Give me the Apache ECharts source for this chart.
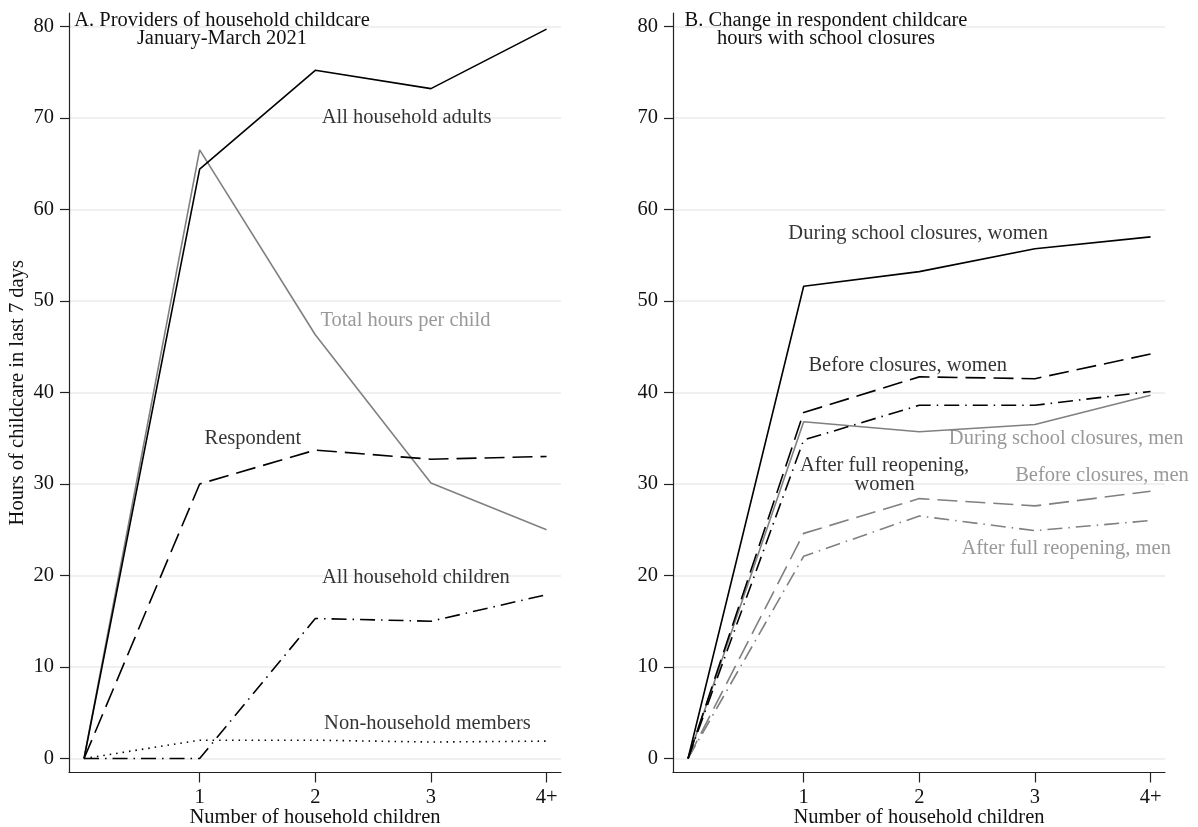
<!DOCTYPE html>
<html>
<head>
<meta charset="utf-8">
<script src="https://cdn.jsdelivr.net/npm/echarts@6/dist/echarts.min.js"></script>
<style>
html,body{margin:0;padding:0;background:#fff;}
#chart{width:1198px;height:827px;}
</style>
</head>
<body>
<div id="chart"></div>
<script>
// ---------- data ----------
const xVals = [0, 1, 2, 3, 4];
const xTickVals = [1, 2, 3, 4];
const xTickLabels = ['1', '2', '3', '4+'];
const yTickVals = [0, 10, 20, 30, 40, 50, 60, 70, 80];

// Panel A: providers of household childcare
const allAdults      = [0, 64.4, 75.2, 73.2, 79.7];
const totalPerChild  = [0, 66.5, 46.3, 30.1, 25.0];
const respondent     = [0, 30.0, 33.7, 32.7, 33.0];
const allChildren    = [0, 0.0, 15.3, 15.0, 17.9];
const nonHousehold   = [0, 2.0, 2.0, 1.8, 1.9];

// Panel B: respondent childcare hours and school closures
const duringWomen = [0, 51.6, 53.2, 55.7, 57.0];
const beforeWomen = [0, 37.8, 41.7, 41.5, 44.2];
const afterWomen  = [0, 34.8, 38.6, 38.6, 40.1];
const duringMen   = [0, 36.8, 35.7, 36.5, 39.7];
const beforeMen   = [0, 24.6, 28.4, 27.6, 29.2];
const afterMen    = [0, 22.1, 26.5, 24.9, 26.0];

const titleA = 'A. Providers of household childcare\nJanuary-March 2021';
const titleB = 'B. Change in respondent childcare\nhours with school closures';
const xTitle = 'Number of household children';
const yTitle = 'Hours of childcare in last 7 days';

// text annotations: [text, x, y, colour key]
const notesA = [
  ['All household adults', 2.79, 70.0, 'k'],
  ['Total hours per child', 2.78, 47.9, 'g'],
  ['Respondent', 1.46, 35.0, 'k'],
  ['All household children', 2.87, 19.8, 'k'],
  ['Non-household members', 2.97, 3.8, 'k']
];
const notesB = [
  ['During school closures, women', 1.99, 57.4, 'k'],
  ['Before closures, women', 1.90, 42.9, 'k'],
  ['After full reopening,\nwomen', 1.70, 31.0, 'k'],
  ['During school closures, men', 3.27, 34.9, 'g'],
  ['Before closures, men', 3.58, 30.9, 'g'],
  ['After full reopening, men', 3.27, 22.9, 'g']
];

// ---------- styling ----------
const FONT = 'Liberation Serif';
const FS = 20.5;
const BLACK = '#000000';
const GRAY = '#808080';
const SOLID = 'solid';
const DASH = [20, 8];
const DASHDOT = [15, 6, 1.5, 6];
const DOT = [1.5, 5];

const chart = echarts.init(document.getElementById('chart'), null, {renderer: 'canvas'});

function pairs(ys) { return xVals.map((x, i) => [x, ys[i]]); }

function xAxisDef(gi) {
  return {
    type: 'value', gridIndex: gi, min: -0.13, max: 4.125,
    name: xTitle, nameLocation: 'middle', nameGap: 35, nameMoveOverlap: false,
    nameTextStyle: {fontFamily: FONT, fontSize: FS, color: '#111'},
    axisLine: {show: true, onZero: false, lineStyle: {color: '#222', width: 1.2}},
    axisTick: {show: true, length: 10, customValues: xTickVals, lineStyle: {color: '#222', width: 1.2}},
    axisLabel: {show: true, margin: 15, customValues: xTickVals, fontFamily: FONT, fontSize: FS, color: '#111',
      formatter: v => xTickLabels[xTickVals.indexOf(v)]},
    splitLine: {show: false}
  };
}
function yAxisDef(gi, withName) {
  return {
    type: 'value', gridIndex: gi, min: -1.53, max: 81.46,
    name: withName ? yTitle : '', nameLocation: 'middle', nameGap: 41, nameMoveOverlap: false,
    nameTextStyle: {fontFamily: FONT, fontSize: FS, color: '#111'},
    axisLine: {show: true, onZero: false, lineStyle: {color: '#222', width: 1.2}},
    axisTick: {show: true, length: 9, customValues: yTickVals, lineStyle: {color: '#222', width: 1.2}},
    axisLabel: {show: true, margin: 15, customValues: yTickVals, fontFamily: FONT, fontSize: FS, color: '#111'},
    splitLine: {show: true, lineStyle: {color: '#ebebeb', width: 1.6}}
  };
}
function lineSeries(name, ys, gi, color, type) {
  return {
    name: name, type: 'line', xAxisIndex: gi, yAxisIndex: gi,
    data: pairs(ys), symbol: 'none', smooth: false, silent: true, animation: false,
    lineStyle: {color: color, width: 1.6, type: type, cap: 'butt'}
  };
}
function noteSeries(notes, gi) {
  return {
    type: 'scatter', xAxisIndex: gi, yAxisIndex: gi, symbolSize: 0, silent: true, animation: false,
    z: 10,
    data: notes.map(n => ({
      value: [n[1], n[2]],
      label: {show: true, position: 'inside', formatter: n[0], fontFamily: FONT, fontSize: FS,
        lineHeight: 19, align: 'center', verticalAlign: 'middle',
        color: n[3] === 'g' ? GRAY : BLACK}
    }))
  };
}

const option = {
  backgroundColor: '#ffffff',
  animation: false,
  title: [
    {text: titleA, left: 222, top: 12, padding: 0, textAlign: 'center',
      textStyle: {fontFamily: FONT, fontSize: FS, fontWeight: 'normal', color: '#111', lineHeight: 18}},
    {text: titleB, left: 826, top: 12, padding: 0, textAlign: 'center',
      textStyle: {fontFamily: FONT, fontSize: FS, fontWeight: 'normal', color: '#111', lineHeight: 18}}
  ],
  grid: [
    {left: 69, right: 637, top: 13, bottom: 54.5, containLabel: false, outerBoundsMode: 'none'},
    {left: 673, right: 33, top: 13, bottom: 54.5, containLabel: false, outerBoundsMode: 'none'}
  ],
  xAxis: [xAxisDef(0), xAxisDef(1)],
  yAxis: [yAxisDef(0, true), yAxisDef(1, false)],
  series: [
    lineSeries('Total hours per child', totalPerChild, 0, GRAY, SOLID),
    lineSeries('All household adults', allAdults, 0, BLACK, SOLID),
    lineSeries('Respondent', respondent, 0, BLACK, DASH),
    lineSeries('All household children', allChildren, 0, BLACK, DASHDOT),
    lineSeries('Non-household members', nonHousehold, 0, BLACK, DOT),
    noteSeries(notesA, 0),
    lineSeries('During school closures, men', duringMen, 1, GRAY, SOLID),
    lineSeries('Before closures, men', beforeMen, 1, GRAY, DASH),
    lineSeries('After full reopening, men', afterMen, 1, GRAY, DASHDOT),
    lineSeries('During school closures, women', duringWomen, 1, BLACK, SOLID),
    lineSeries('Before closures, women', beforeWomen, 1, BLACK, DASH),
    lineSeries('After full reopening, women', afterWomen, 1, BLACK, DASHDOT),
    noteSeries(notesB, 1)
  ]
};
chart.setOption(option);
</script>
</body>
</html>
